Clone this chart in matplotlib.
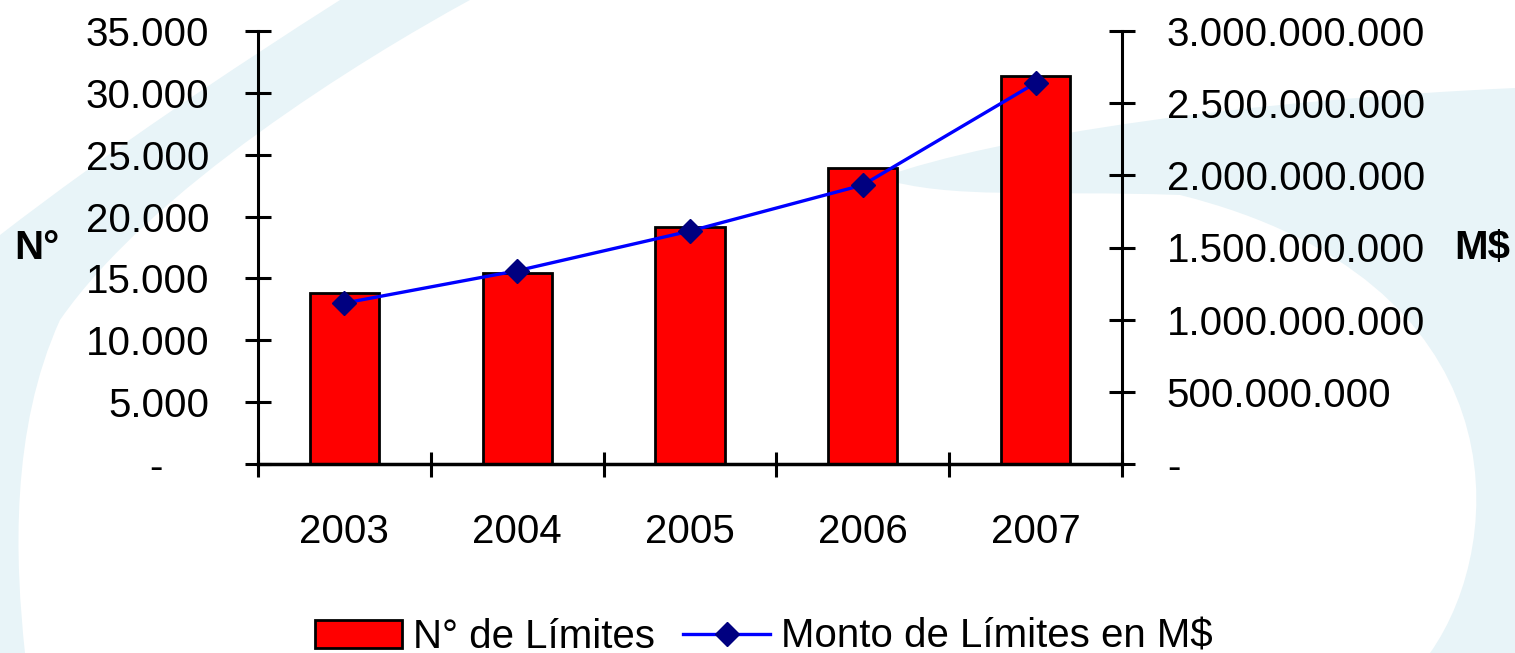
import numpy as np
import matplotlib
matplotlib.use("Agg")
import matplotlib.pyplot as plt
from matplotlib.path import Path
from matplotlib.patches import PathPatch
from matplotlib.ticker import FixedLocator, FuncFormatter, NullFormatter

plt.rcParams['font.family'] = ['Liberation Sans', 'DejaVu Sans']

# data
years = ['2003', '2004', '2005', '2006', '2007']
n_limites = [13850, 15450, 19150, 23900, 31350]
monto_limites = [1115000000, 1339000000, 1614000000, 1933000000, 2640000000]

FS = 29
W, H = 1515, 653

fig = plt.figure(figsize=(W / 100, H / 100), dpi=100)

# background swooshes (pale blue decoration)
bg = fig.add_axes([0, 0, 1, 1], zorder=-5)
bg.set_xlim(0, W)
bg.set_ylim(H, 0)
bg.axis('off')
pale = '#e8f4f8'
C = Path.CURVE4
swoosh_left = Path(
    [(0, 235), (110, 150), (230, 70), (340, 0),
     (470, 0),
     (360, 60), (150, 190), (60, 320),
     (10, 430), (15, 560), (25, 653),
     (0, 653), (0, 235)],
    [Path.MOVETO, C, C, C,
     Path.LINETO,
     C, C, C,
     C, C, C,
     Path.LINETO, Path.CLOSEPOLY])
bg.add_patch(PathPatch(swoosh_left, fc=pale, ec='none'))
swoosh_right = Path(
    [(880, 178), (1000, 135), (1250, 100), (1515, 88),
     (1515, 653), (1430, 653),
     (1510, 540), (1520, 280), (1180, 195),
     (1040, 190), (950, 200), (880, 178)],
    [Path.MOVETO, C, C, C,
     Path.LINETO, Path.LINETO,
     C, C, C,
     C, C, C])
bg.add_patch(PathPatch(swoosh_right, fc=pale, ec='none'))

ax = fig.add_axes([258 / W, 189 / H, 864 / W, 433 / H])
ax.patch.set_alpha(0)
ax2 = ax.twinx()

x = np.arange(len(years))
bars = ax.bar(x, n_limites, width=0.4, color='#ff0000', edgecolor='black',
              linewidth=2.0, label='N° de Límites', zorder=2)
line, = ax2.plot(x, monto_limites, color='#0000ff', linewidth=2.4,
                 marker='D', markersize=12, markerfacecolor='#000080',
                 markeredgecolor='#000080', label='Monto de Límites en M$')

ax.set_xlim(-0.5, len(years) - 0.5)
ax.set_ylim(0, 35000)
ax2.set_ylim(0, 3000000000)


def miles(v, pos):
    if v == 0:
        return ''
    return f"{int(round(v)):,}".replace(',', '.')


ax.yaxis.set_major_locator(FixedLocator(np.arange(0, 35001, 5000)))
ax.yaxis.set_major_formatter(FuncFormatter(miles))
ax2.yaxis.set_major_locator(FixedLocator(np.arange(0, 3000000001, 500000000)))
ax2.yaxis.set_major_formatter(FuncFormatter(miles))

ax.xaxis.set_major_locator(FixedLocator(np.arange(-0.5, len(years), 1.0)))
ax.xaxis.set_major_formatter(NullFormatter())
ax.xaxis.set_minor_locator(FixedLocator(x))
ax.set_xticklabels(years, minor=True)

ax.tick_params(axis='y', direction='inout', length=18.5, width=2.2,
               labelsize=FS, pad=26, color='black')
ax2.tick_params(axis='y', direction='inout', length=18.5, width=2.2,
                labelsize=FS, pad=23, color='black')
ax.tick_params(axis='x', which='major', direction='inout', length=18,
               width=2.2)
ax.tick_params(axis='x', which='minor', length=0, labelsize=FS, pad=35)

# zero labels drawn as dashes
ax.text((163 - 258) / 864, 0, '-', transform=ax.get_yaxis_transform(),
        ha='right', va='center_baseline', fontsize=FS)
ax2.text((1167 - 258) / 864, 0, '-', transform=ax2.get_yaxis_transform(),
         ha='left', va='center_baseline', fontsize=FS)

for s in ['top', 'right']:
    ax.spines[s].set_visible(False)
for s in ['top', 'left', 'bottom']:
    ax2.spines[s].set_visible(False)
ax.spines['left'].set_linewidth(2.2)
ax.spines['bottom'].set_linewidth(2.5)
ax2.spines['right'].set_linewidth(2.2)

fig.text(37 / W, 1 - 248 / H, 'N°', fontsize=FS, fontweight='bold',
         ha='center', va='center')
fig.text(1482 / W, 1 - 248 / H, 'M$', fontsize=FS, fontweight='bold',
         ha='center', va='center')

fig.legend([bars, line], ['N° de Límites', 'Monto de Límites en M$'],
           loc='center', bbox_to_anchor=(764 / W, 16 / H), ncol=2,
           frameon=False, fontsize=FS, handlelength=2.15, handletextpad=0.28,
           columnspacing=0.7, borderpad=0, borderaxespad=0)

fig.savefig('out.png', dpi=100)
